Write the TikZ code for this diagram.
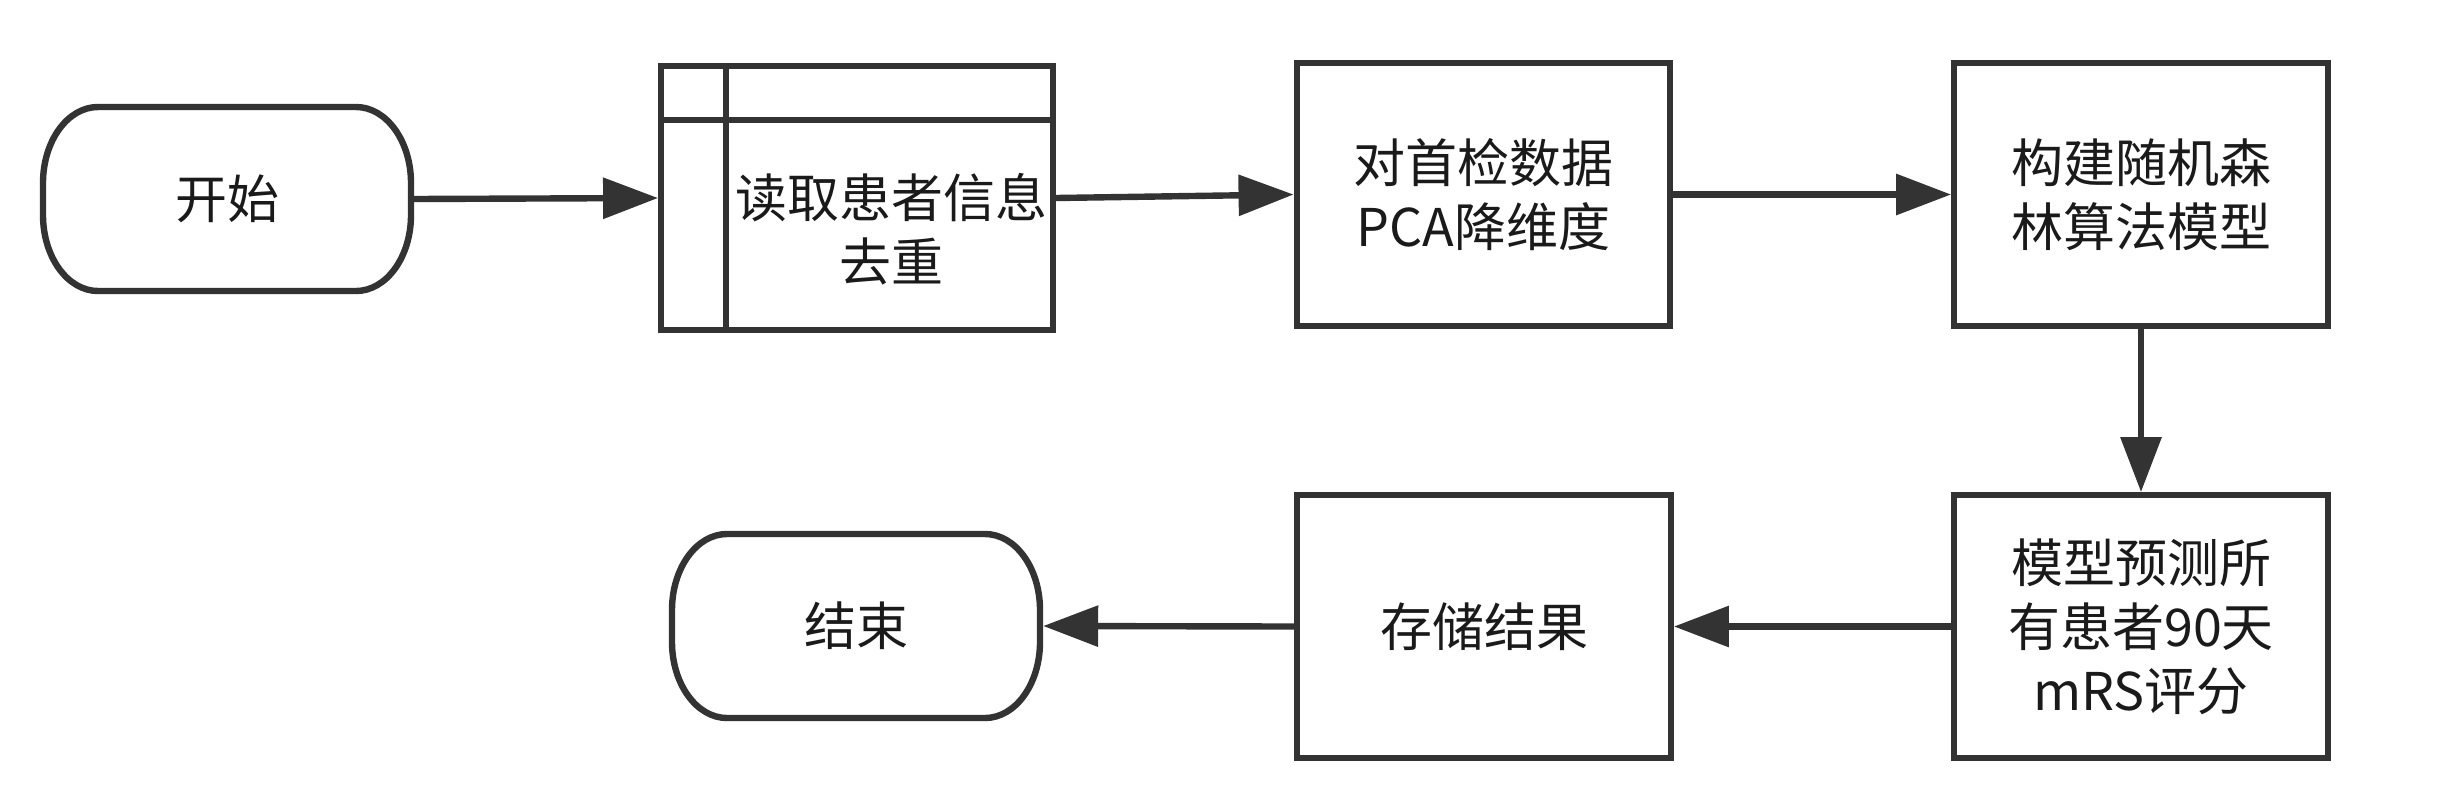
\documentclass[tikz,border=0pt]{standalone}
\usepackage{fontspec}
\setmainfont{Noto Sans CJK SC}
\usetikzlibrary{arrows.meta}
\definecolor{ln}{HTML}{333333}
\definecolor{tx}{HTML}{1A1A1A}
\newcommand\termshape[1]{%
  \draw[termline] (#1.center) ++(-64.5pt,46pt) -- ++(129pt,0pt)
    arc[start angle=90, end angle=0, x radius=27.5pt, y radius=38pt]
    -- ++(0pt,-16pt)
    arc[start angle=0, end angle=-90, x radius=27.5pt, y radius=38pt]
    -- ++(-129pt,0pt)
    arc[start angle=-90, end angle=-180, x radius=27.5pt, y radius=38pt]
    -- ++(0pt,16pt)
    arc[start angle=180, end angle=90, x radius=27.5pt, y radius=38pt]
    -- cycle;}
\begin{document}
\begin{tikzpicture}[x=0.5pt,y=-0.5pt,
  every node/.style={font=\fontsize{26pt}{32pt}\selectfont, text=tx, align=center},
  proc/.style={draw=ln, line width=3.2pt, minimum width=186.75pt, minimum height=131.25pt, inner sep=0pt},
  term/.style={minimum width=184pt, minimum height=92pt, inner sep=0pt, outer sep=1.6pt},
  termline/.style={draw=ln, line width=3.2pt, line join=round},
  arr/.style={draw=ln, line width=3.2pt, -{Triangle[length=27.5pt,width=20pt]}},
  inner/.style={draw=ln, line width=3.2pt}]
\fill[white] (0,0) rectangle (2462,810);
\useasboundingbox (0,0) rectangle (2462,810);

\node[term] (start) at (227,199) {开始};
\termshape{start}
\node[proc, minimum width=195.75pt, minimum height=131.75pt] (box1) at (857,198) {};
\draw[inner] ([yshift=-28.5pt]box1.north west) -- ([yshift=-28.5pt]box1.north east);
\draw[inner] ([xshift=34pt]box1.north west) -- ([xshift=34pt]box1.south west);
\node (box1text) at (891,229) {读取患者信息\\去重};
\node[proc] (box2) at (1483.5,194.5) {对首检数据\\PCA降维度};
\node[proc] (box3) at (2141,194.5) {构建随机森\\林算法模型};
\node[proc] (box4) at (2141,626.5) {模型预测所\\有患者90天\\mRS评分};
\node[proc] (box5) at (1484,626.5) {存储结果};
\node[term] (end) at (856,626) {结束};
\termshape{end}

\draw[arr] (start.east) -- (box1.west);
\draw[arr] (box1.east) -- (box2.west);
\draw[arr] (box2.east) -- (box3.west);
\draw[arr] (box3.south) -- (box4.north);
\draw[arr] (box4.west) -- (box5.east);
\draw[arr] (box5.west) -- (end.east);
\end{tikzpicture}
\end{document}
